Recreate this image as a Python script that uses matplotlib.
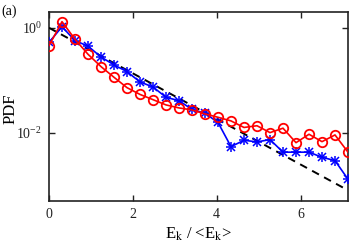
import matplotlib
matplotlib.use("Agg")
import matplotlib.pyplot as plt
from matplotlib.ticker import FixedLocator, LogFormatterSciNotation, NullLocator

plt.rcParams['font.family'] = ['Liberation Serif', 'DejaVu Serif']
plt.rcParams['mathtext.fontset'] = 'stix'

x = [0.00, 0.31, 0.62, 0.93, 1.24, 1.55, 1.86, 2.17, 2.48, 2.79, 3.10, 3.41,
     3.72, 4.03, 4.34, 4.65, 4.96, 5.27, 5.58, 5.89, 6.20, 6.51, 6.82, 7.13]

red_pdf = [0.456, 1.31, 0.604, 0.313, 0.182, 0.114, 0.0723, 0.0537, 0.0427, 0.0339,
           0.0297, 0.0272, 0.0228, 0.0197, 0.0168, 0.0126, 0.0136, 0.01005, 0.0122,
           0.00647, 0.00935, 0.00676, 0.00908, 0.00426]

blue_pdf = [0.525, 1.05, 0.570, 0.447, 0.278, 0.196, 0.146, 0.0929, 0.0745, 0.0474,
            0.0408, 0.0278, 0.0235, 0.0157, 0.00543, 0.00719, 0.00668, 0.00741,
            0.00426, 0.00426, 0.00426, 0.00341, 0.00294, 0.0013]

ref_x = [0.0, 7.13]
ref_y = [1.0, 8.0e-4]

fig = plt.figure(figsize=(3.54, 2.49), dpi=100)
ax = fig.add_axes([49/354, 48/249, 299/354, 189/249])

ax.plot(ref_x, ref_y, color='black', linestyle=(0, (4, 3)), linewidth=1.4, zorder=3)
ax.plot(x, blue_pdf, color='blue', linewidth=1.2, marker='+', markersize=7,
        markeredgewidth=1.1, zorder=4)
ax.plot(x, blue_pdf, color='blue', linestyle='none', marker='x', markersize=5.5,
        markeredgewidth=1.1, zorder=4)
ax.plot(x, red_pdf, color='red', linewidth=1.2, marker='o', markersize=6.8,
        markerfacecolor='none', markeredgewidth=1.3, zorder=5)

ax.set_yscale('log')
ax.set_xlim(0, 7.13)
ax.set_ylim(5e-4, 2)
ax.set_xticks([0, 2, 4, 6])
ax.yaxis.set_major_locator(FixedLocator([1e-2, 1e0]))
ax.yaxis.set_major_formatter(LogFormatterSciNotation())
ax.yaxis.set_minor_locator(NullLocator())

ax.tick_params(direction='in', length=4, width=1.0, top=True, right=True,
               labelsize=10, colors='#222222', pad=5)
for s in ax.spines.values():
    s.set_linewidth(1.2)
    s.set_color('#222222')

ax.set_xlabel('E$_\\mathrm{k}$ / <E$_\\mathrm{k}$>', fontsize=12, labelpad=3)
ax.set_ylabel('PDF', fontsize=12, va='center')
ax.yaxis.set_label_coords(-0.128, 0.49)
fig.text(0.003, 0.955, '(a)', fontsize=10, va='center', ha='left')

fig.savefig('out.png', dpi=100)
